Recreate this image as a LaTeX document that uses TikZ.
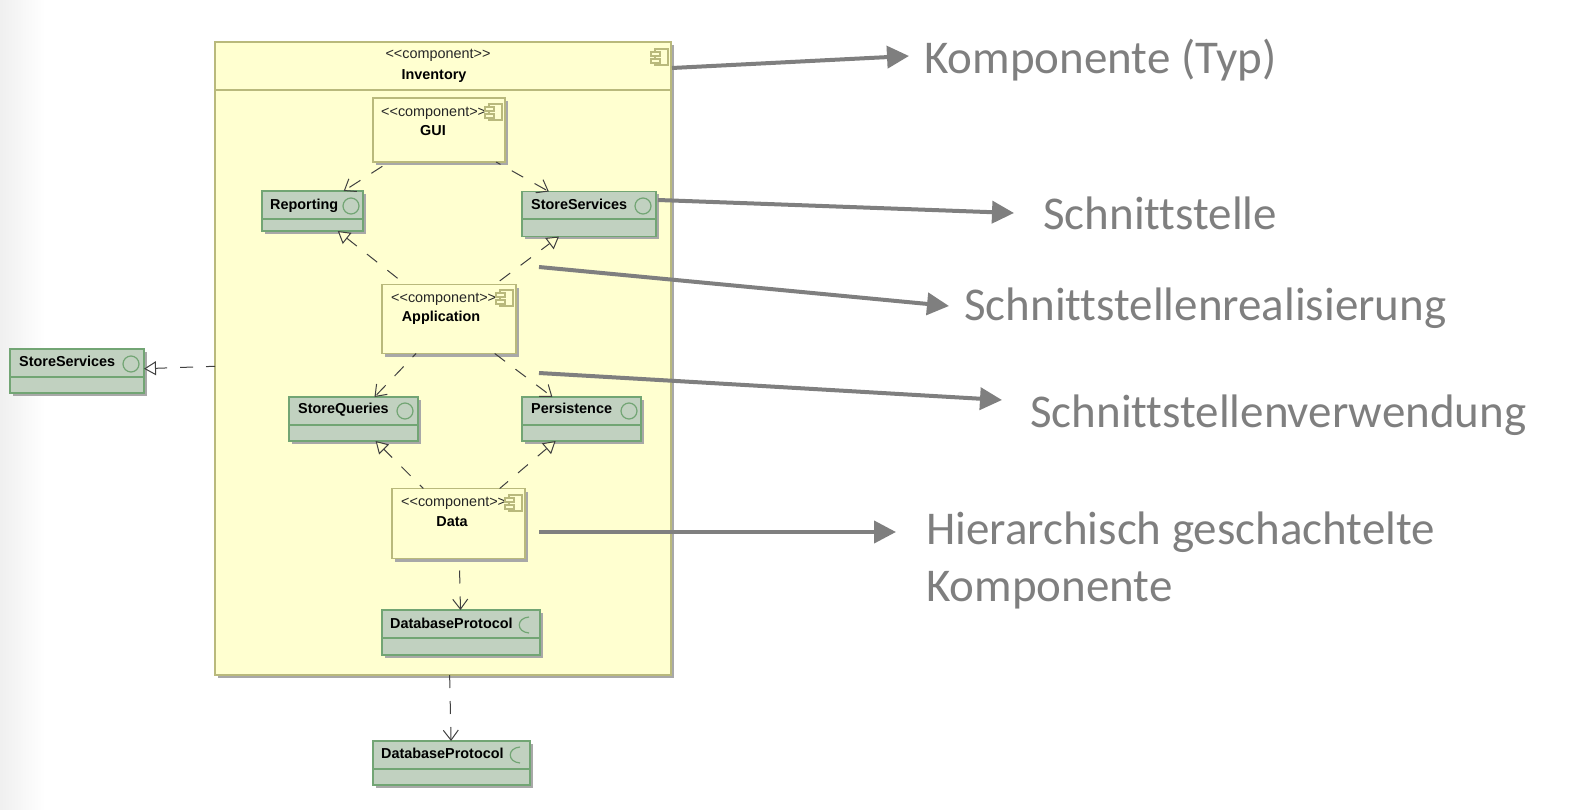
\documentclass[tikz,border=0pt]{standalone}
\usepackage{fontspec}
\setmainfont{Liberation Sans}
\newfontfamily\bigfont[Ligatures={NoCommon,NoDiscretionary,NoRequired}]{Carlito}
\usetikzlibrary{arrows.meta,shadows,calc}
\definecolor{yel}{HTML}{FFFFD0}
\definecolor{yelline}{HTML}{B9B97C}
\definecolor{grn}{HTML}{C1D1C0}
\definecolor{grnline}{HTML}{72A574}
\definecolor{callout}{HTML}{7F7F7F}
\definecolor{dep}{HTML}{404040}
\definecolor{shade}{HTML}{A8A8A8}
\newcommand{\compword}{<{}<component>{}>}
\tikzset{
  x=1pt,y=-1pt,
  shad/.style={drop shadow={shadow xshift=3pt,shadow yshift=-3pt,fill=shade,opacity=1}},
  compbox/.style={draw=yelline,fill=yel,line width=1.2pt,shape=rectangle,inner sep=0pt,outer sep=0pt,shad},
  ifacebox/.style={draw=grnline,fill=grn,line width=1.2pt,shape=rectangle,inner sep=0pt,outer sep=0pt,shad},
  ifacesplit/.style={draw=grnline,line width=1.2pt},
  ifaceball/.style={draw=grnline,line width=1.2pt},
  boldlabel/.style={font=\fontsize{14.4}{16}\selectfont\bfseries,text=black,inner sep=0pt},
  stereolabel/.style={font=\fontsize{14.4}{16}\selectfont,text=black!85,inner sep=0pt},
  usesdep/.style={draw=dep,line width=1pt,dash pattern=on 13pt off 13pt,-{Straight Barb[length=10pt,width=15pt,line width=1pt]}},
  realdep/.style={draw=dep,line width=1pt,dash pattern=on 13pt off 13pt,-{Triangle[open,length=12pt,width=14pt,line width=1pt,fill=yel]}},
  realoutdep/.style={realdep,-{Triangle[open,length=12pt,width=14pt,line width=1pt,fill=white]}},
  callarrow/.style={draw=callout,line width=4pt,-{Triangle[length=22pt,width=22pt]}},
  bigtext/.style={font=\bigfont\fontsize{47}{52}\selectfont,text=callout,inner sep=0pt,anchor=west},
  compicon/.pic={
    \draw[yelline,line width=1.2pt] (4,0) rectangle (17,16);
    \draw[yelline,line width=1.2pt,fill=yel] (0,3) rectangle (9,7);
    \draw[yelline,line width=1.2pt,fill=yel] (0,10) rectangle (9,14);
  }
}
\begin{document}
\begin{tikzpicture}
\useasboundingbox (0,0) rectangle (1578,810);
\shade[left color=black!6,right color=white] (0,0) rectangle (45,810);

% outer component
\node[compbox,minimum width=456pt,minimum height=633pt] (inv) at (443,358.5) {};
\draw[yelline,line width=1.2pt] (215,90) -- (671,90);
\node[stereolabel] (invs) at (438,55) {\compword};
\node[boldlabel] (invn) at (434,76) {Inventory};
\pic at (651,49) {compicon};

% inner components
\node[compbox,minimum width=132pt,minimum height=64pt] (gui) at (439,130) {};
\node[stereolabel,anchor=west] (guis) at (381,113) {\compword};
\node[boldlabel] (guin) at (433,131) {GUI};
\pic at (485,104) {compicon};

\node[compbox,minimum width=134pt,minimum height=69pt] (app) at (449,319) {};
\node[stereolabel,anchor=west] (apps) at (391,299) {\compword};
\node[boldlabel] (appn) at (441,318) {Application};
\pic at (496,290) {compicon};

\node[compbox,minimum width=133pt,minimum height=70pt] (data) at (458.5,523.5) {};
\node[stereolabel,anchor=west] (datas) at (401,503) {\compword};
\node[boldlabel] (datan) at (452,522) {Data};
\pic at (505,495) {compicon};

% interfaces
\node[ifacebox,minimum width=101pt,minimum height=40pt] (rep) at (312.5,211) {};
\draw[ifacesplit] (262,219) -- (363,219);
\node[boldlabel,anchor=west] (repn) at (270,206) {Reporting};
\draw[ifaceball] (351,206) circle (8);

\node[ifacebox,minimum width=134pt,minimum height=45pt] (ss) at (589,214) {};
\draw[ifacesplit] (522,219) -- (656,219);
\node[boldlabel,anchor=west] (ssn) at (531,204) {StoreServices};
\draw[ifaceball] (643,206) circle (8);

\node[ifacebox,minimum width=134pt,minimum height=44pt] (ssx) at (77,371) {};
\draw[ifacesplit] (10,377) -- (144,377);
\node[boldlabel,anchor=west] (ssxn) at (19,361) {StoreServices};
\draw[ifaceball] (131,364) circle (8);

\node[ifacebox,minimum width=129pt,minimum height=44pt] (sq) at (353.5,419) {};
\draw[ifacesplit] (289,425) -- (418,425);
\node[boldlabel,anchor=west] (sqn) at (298,410) {StoreQueries};
\draw[ifaceball] (405,411) circle (8);

\node[ifacebox,minimum width=119pt,minimum height=44pt] (per) at (581.5,419) {};
\draw[ifacesplit] (522,425) -- (641,425);
\node[boldlabel,anchor=west] (pern) at (531,408) {Persistence};
\draw[ifaceball] (629,411) circle (8);

\node[ifacebox,minimum width=158pt,minimum height=45pt] (db) at (461,632.5) {};
\draw[ifacesplit] (382,638) -- (540,638);
\node[boldlabel,anchor=west] (dbn) at (390,623) {DatabaseProtocol};
\draw[ifaceball] (529,617) .. controls (516,618) and (516,632) .. (529,633);

\node[ifacebox,minimum width=157pt,minimum height=44pt] (dbx) at (451.5,763) {};
\draw[ifacesplit] (373,769) -- (530,769);
\node[boldlabel,anchor=west] (dbxn) at (381,753) {DatabaseProtocol};
\draw[ifaceball] (520,747) .. controls (507,748) and (507,762) .. (520,763);

% dependencies
\draw[usesdep,dash phase=18pt] (gui) -- (rep);
\draw[usesdep,dash phase=8pt] (gui) -- (ss);
\draw[realdep,dash phase=16pt] (app) -- (rep);
\draw[realdep,dash phase=20pt] (app) -- (ss);
\draw[usesdep,dash phase=8pt] (app) -- (sq);
\draw[usesdep] (app) -- (per);
\draw[realdep,dash phase=8pt] (data) -- (sq);
\draw[realdep,dash phase=2pt] (data) -- (per);
\draw[usesdep,dash phase=14pt] (data) -- (db);
\draw[usesdep] (inv) -- (dbx);
\draw[realoutdep,dash phase=4pt] (inv) -- (ssx);

% callouts
\node[bigtext] (t1) at (924,60) {Komponente (Typ)};
\node[bigtext] (t2) at (1043,213) {Schnittstelle};
\node[bigtext] (t3) at (964,308) {Schnittstellenrealisierung};
\node[bigtext] (t4) at (1030,415) {Schnittstellenverwendung};
\node[bigtext] (t5) at (926,532) {Hierarchisch geschachtelte};
\node[bigtext] (t6) at (926,590) {Komponente};

\coordinate (a1) at (672,68);  \coordinate (b1) at (909,56);
\coordinate (a2) at (658,200); \coordinate (b2) at (1014,213);
\coordinate (a3) at (539,267); \coordinate (b3) at (949,306);
\coordinate (a4) at (539,373); \coordinate (b4) at (1002,400);
\coordinate (a5) at (539,532); \coordinate (b5) at (896,532);
\draw[callarrow] (a1) -- (b1);
\draw[callarrow] (a2) -- (b2);
\draw[callarrow] (a3) -- (b3);
\draw[callarrow] (a4) -- (b4);
\draw[callarrow] (a5) -- (b5);
\end{tikzpicture}
\end{document}
